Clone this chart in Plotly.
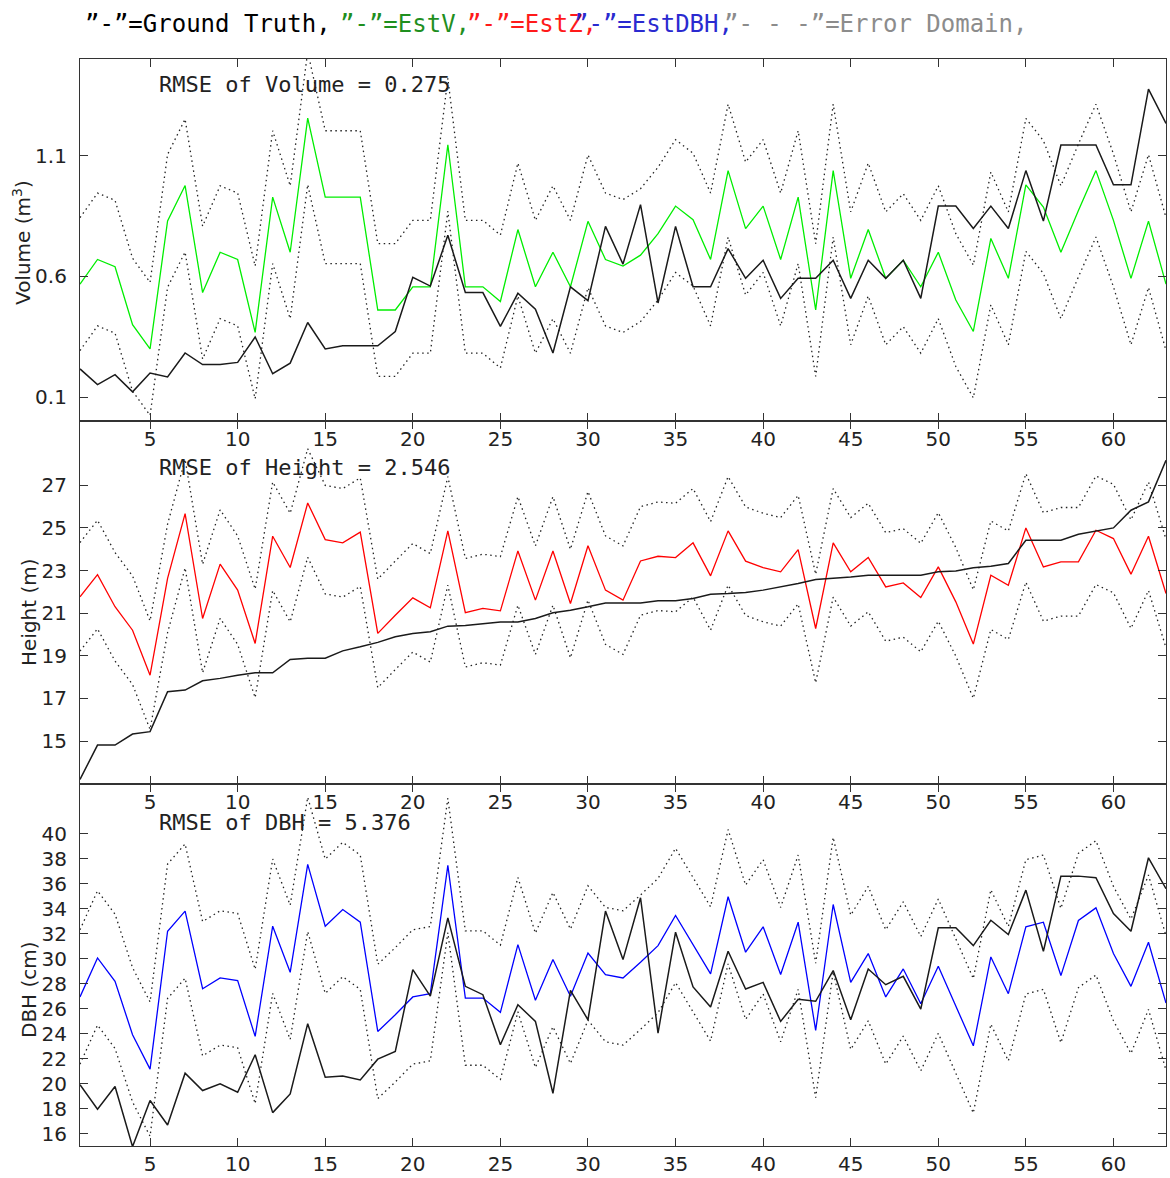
import plotly.graph_objects as go
from plotly.subplots import make_subplots

x_idx = list(range(1, 64))

vol_true = [0.217, 0.152, 0.193, 0.122, 0.200, 0.184, 0.283, 0.235, 0.235, 0.244,
            0.349, 0.197, 0.241, 0.409, 0.300, 0.313, 0.313, 0.313, 0.372, 0.596,
            0.560, 0.770, 0.533, 0.533, 0.393, 0.530, 0.464, 0.283, 0.557, 0.500,
            0.807, 0.651, 0.897, 0.490, 0.807, 0.557, 0.557, 0.715, 0.592, 0.667,
            0.509, 0.592, 0.592, 0.667, 0.509, 0.667, 0.592, 0.667, 0.509, 0.891,
            0.891, 0.798, 0.891, 0.798, 1.038, 0.829, 1.144, 1.144, 1.144, 0.979,
            0.979, 1.375, 1.233]
vol_est = [0.568, 0.670, 0.640, 0.400, 0.300, 0.830, 0.976, 0.533, 0.700, 0.670,
           0.368, 0.928, 0.700, 1.255, 0.928, 0.928, 0.928, 0.461, 0.461, 0.557,
           0.557, 1.145, 0.557, 0.557, 0.496, 0.794, 0.557, 0.700, 0.557, 0.828,
           0.670, 0.643, 0.688, 0.777, 0.891, 0.835, 0.670, 1.038, 0.798, 0.891,
           0.670, 0.928, 0.461, 1.038, 0.592, 0.794, 0.592, 0.667, 0.557, 0.700,
           0.502, 0.372, 0.757, 0.592, 0.979, 0.887, 0.700, 0.873, 1.038, 0.832,
           0.592, 0.829, 0.568]

ht_true = [13.2, 14.81, 14.81, 15.33, 15.44, 17.31, 17.39, 17.83, 17.94, 18.09,
           18.2, 18.2, 18.83, 18.89, 18.89, 19.23, 19.42, 19.63, 19.89, 20.05,
           20.13, 20.39, 20.42, 20.52, 20.59, 20.59, 20.75, 21.02, 21.14, 21.30,
           21.48, 21.48, 21.48, 21.58, 21.58, 21.69, 21.89, 21.92, 21.97, 22.08,
           22.23, 22.39, 22.58, 22.63, 22.70, 22.78, 22.78, 22.78, 22.78, 22.94,
           22.98, 23.13, 23.2, 23.33, 24.42, 24.42, 24.42, 24.70, 24.86, 25.0,
           25.83, 26.22, 28.17]
ht_est = [21.77, 22.81, 21.30, 20.2, 18.09, 22.63, 25.67, 20.75, 23.30, 22.08,
          19.58, 24.61, 23.14, 26.17, 24.45, 24.30, 24.80, 20.05, 20.9, 21.72,
          21.25, 24.86, 21.02, 21.22, 21.11, 23.92, 21.61, 23.92, 21.45, 24.16,
          22.08, 21.61, 23.45, 23.67, 23.61, 24.30, 22.75, 24.86, 23.44, 23.14,
          22.94, 23.98, 20.28, 24.30, 22.94, 23.61, 22.23, 22.42, 21.73, 23.17,
          21.53, 19.55, 22.78, 22.31, 25.0, 23.17, 23.41, 23.41, 24.89, 24.5,
          22.83, 24.61, 21.92]

dbh_true = [19.9, 17.94, 19.76, 14.95, 18.64, 16.68, 20.83, 19.44, 19.97, 19.3,
            22.3, 17.67, 19.17, 24.79, 20.51, 20.61, 20.29, 21.95, 22.57, 29.12,
            27.0, 33.26, 27.78, 27.11, 23.1, 26.31, 24.97, 19.22, 27.46, 25.1,
            33.8, 29.92, 34.87, 24.04, 32.11, 27.73, 26.12, 30.59, 27.57, 28.1,
            24.97, 26.75, 26.58, 29.04, 25.1, 29.17, 27.91, 28.58, 25.96, 32.46,
            32.46, 31.04, 33.07, 31.93, 35.48, 30.59, 36.6, 36.6, 36.47, 33.61,
            32.19, 38.07, 35.59]
dbh_est = [26.93, 30.05, 28.18, 23.9, 21.15, 32.19, 33.8, 27.59, 28.45, 28.24,
           23.77, 32.59, 28.9, 37.54, 32.59, 33.93, 32.91, 24.17, 25.5, 26.93,
           27.19, 37.46, 26.84, 26.84, 25.7, 31.12, 26.66, 29.92, 26.98, 30.45,
           28.72, 28.45, 29.71, 31.04, 33.45, 31.12, 28.77, 34.95, 30.51, 32.54,
           28.72, 32.91, 24.25, 34.33, 28.1, 30.4, 26.93, 29.17, 26.39, 29.39,
           26.18, 23.02, 30.13, 27.19, 32.54, 32.91, 28.64, 33.05, 34.06, 30.4,
           27.78, 31.31, 26.44]

rmse_vol = 0.275
rmse_ht = 2.546
rmse_dbh = 5.376

x_ticks = [5, 10, 15, 20, 25, 30, 35, 40, 45, 50, 55, 60]
vol_ticks = [0.1, 0.6, 1.1]
ht_ticks = [15, 17, 19, 21, 23, 25, 27]
dbh_ticks = [16, 18, 20, 22, 24, 26, 28, 30, 32, 34, 36, 38, 40]

FONT = "DejaVu Sans"
MONO = "DejaVu Sans Mono"

fig = make_subplots(rows=3, cols=1, vertical_spacing=0)

panels = [
    (vol_true, vol_est, rmse_vol, "#00ee00", [0.0, 1.5], vol_ticks),
    (ht_true, ht_est, rmse_ht, "#ff0000", [13.0, 30.0], ht_ticks),
    (dbh_true, dbh_est, rmse_dbh, "#0000ff", [15.0, 44.0], dbh_ticks),
]

for r, (truth, est, rmse, col, yr, yt) in enumerate(panels, start=1):
    upper = [v + rmse for v in est]
    lower = [v - rmse for v in est]
    for b in (upper, lower):
        fig.add_trace(go.Scatter(x=x_idx, y=b, mode="lines",
                                 line=dict(color="#222222", width=1.3, dash="1.5px,3.5px"),
                                 showlegend=False, hoverinfo="skip"), row=r, col=1)
    fig.add_trace(go.Scatter(x=x_idx, y=est, mode="lines",
                             line=dict(color=col, width=1.3),
                             showlegend=False), row=r, col=1)
    fig.add_trace(go.Scatter(x=x_idx, y=truth, mode="lines",
                             line=dict(color="#1a1a1a", width=1.5),
                             showlegend=False), row=r, col=1)
    fig.update_xaxes(range=[1, 63], tickvals=x_ticks, ticks="inside", ticklen=8,
                     tickcolor="#333", showline=True, linecolor="#333", linewidth=1.2,
                     mirror="allticks", showgrid=False, zeroline=False, automargin=False,
                     tickfont=dict(family=FONT, size=20, color="#222"), row=r, col=1)
    fig.update_yaxes(range=yr, tickvals=yt, ticks="inside", ticklen=8,
                     tickcolor="#333", showline=True, linecolor="#333", linewidth=1.2,
                     mirror="allticks", showgrid=False, zeroline=False, automargin=False,
                     ticklabelstandoff=8,
                     tickfont=dict(family=FONT, size=20, color="#222"), row=r, col=1)

W, H = 1170, 1178
ML, MR, MT, MB = 80, 4, 59, 32
PW, PH = W - ML - MR, H - MT - MB


def px(xp):
    return (xp - ML) / PW


def py(yp):
    return 1 - (yp - MT) / PH


annots = []
# header legend text
header = [
    ('”-”=Ground Truth,', "#000000", 83),
    ('”-”=EstV,', "#1f8f1f", 338),
    ('”-”=EstZ,', "#ff1a1a", 465),
    ('”-”=EstDBH,', "#2a2ad0", 572),
    ('”- - -”=Error Domain,', "#8c8c8c", 722),
]
for txt, c, xp in header:
    annots.append(dict(text=txt, x=px(xp), y=py(24), xref="paper", yref="paper",
                       xanchor="left", yanchor="middle", showarrow=False,
                       font=dict(family=MONO, size=24, color=c)))

# RMSE labels
for txt, yp in [("RMSE of Volume = 0.275", 85), ("RMSE of Height = 2.546", 467),
                ("RMSE of DBH = 5.376", 822)]:
    annots.append(dict(text=txt, x=px(157), y=py(yp), xref="paper", yref="paper",
                       xanchor="left", yanchor="middle", showarrow=False,
                       font=dict(family=MONO, size=22, color="#222")))

# y axis titles
for txt, xp, yp in [("Volume (m<sup>3</sup>)", 22, 243), ("Height (m)", 29, 612),
                    ("DBH (cm)", 29, 990)]:
    annots.append(dict(text=txt, x=px(xp), y=py(yp), xref="paper", yref="paper",
                       xanchor="center", yanchor="middle", showarrow=False,
                       textangle=-90, font=dict(family=FONT, size=20, color="#222")))

fig.update_layout(width=W, height=H, margin=dict(l=ML, r=MR, t=MT, b=MB),
                  paper_bgcolor="white", plot_bgcolor="white",
                  showlegend=False, annotations=annots)

fig.write_html("out.html", config={"displayModeBar": False},
               post_script="document.body.style.margin='0';"
                           "document.body.style.overflow='hidden';")
